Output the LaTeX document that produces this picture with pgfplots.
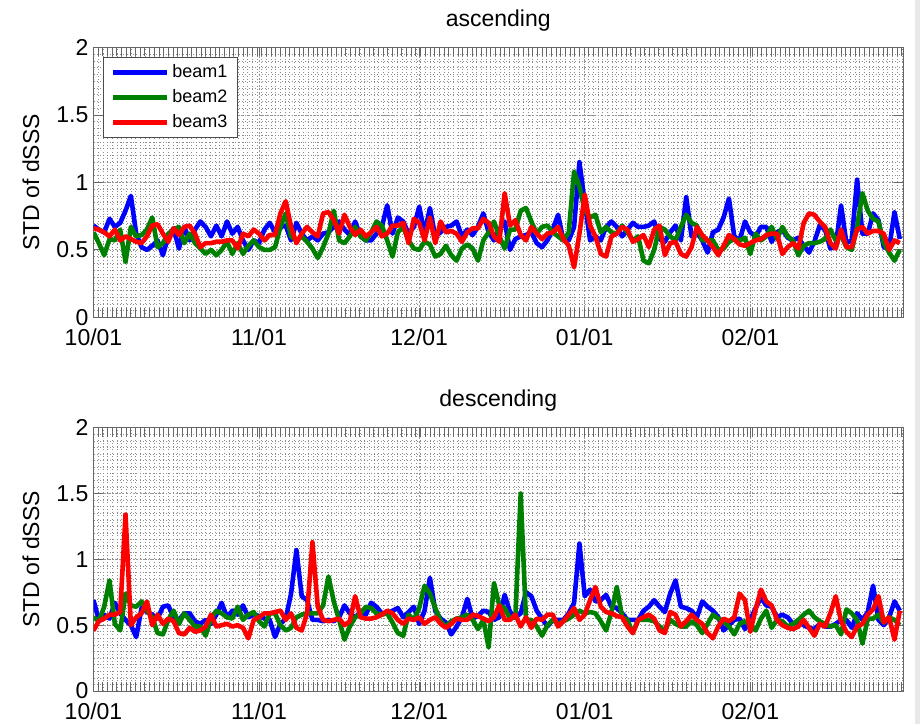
\documentclass[border=0pt]{standalone}
\usepackage{pgfplots}
\pgfplotsset{compat=1.18}
\usepackage{pgfplotstable}
\usepackage{fontspec}
\setmainfont{Liberation Sans}

\definecolor{mblue}{rgb}{0,0,1}
\definecolor{mgreen}{rgb}{0,0.5,0}
\definecolor{mred}{rgb}{1,0,0}

\pgfplotstableread{
d b1 b2 b3
0 0.68 0.63 0.66
1 0.65 0.55 0.65
2 0.63 0.46 0.63
3 0.73 0.58 0.60
4 0.67 0.57 0.65
5 0.70 0.65 0.57
6 0.79 0.41 0.60
7 0.90 0.67 0.58
8 0.62 0.60 0.56
9 0.52 0.61 0.55
10 0.50 0.65 0.60
11 0.53 0.74 0.68
12 0.57 0.52 0.69
13 0.46 0.55 0.62
14 0.60 0.62 0.56
15 0.66 0.65 0.66
16 0.51 0.67 0.61
17 0.67 0.55 0.67
18 0.57 0.62 0.68
19 0.65 0.55 0.62
20 0.71 0.51 0.52
21 0.67 0.47 0.55
22 0.60 0.50 0.55
23 0.68 0.46 0.56
24 0.60 0.50 0.56
25 0.71 0.56 0.57
26 0.62 0.47 0.57
27 0.67 0.55 0.51
28 0.57 0.47 0.62
29 0.50 0.53 0.60
30 0.57 0.57 0.65
31 0.55 0.52 0.62
32 0.65 0.50 0.57
33 0.70 0.50 0.61
34 0.63 0.52 0.61
35 0.67 0.67 0.77
36 0.68 0.77 0.86
37 0.57 0.60 0.67
38 0.70 0.57 0.55
39 0.62 0.60 0.62
40 0.57 0.56 0.67
41 0.60 0.51 0.63
42 0.57 0.44 0.60
43 0.62 0.52 0.77
44 0.63 0.62 0.78
45 0.67 0.79 0.72
46 0.71 0.57 0.62
47 0.65 0.55 0.76
48 0.61 0.60 0.67
49 0.71 0.67 0.61
50 0.60 0.60 0.65
51 0.57 0.57 0.60
52 0.57 0.63 0.63
53 0.62 0.71 0.67
54 0.67 0.68 0.60
55 0.83 0.57 0.62
56 0.62 0.45 0.68
57 0.74 0.63 0.68
58 0.71 0.67 0.70
59 0.62 0.57 0.55
60 0.67 0.51 0.73
61 0.82 0.50 0.70
62 0.62 0.56 0.57
63 0.81 0.54 0.74
64 0.60 0.45 0.55
65 0.63 0.47 0.71
66 0.67 0.53 0.63
67 0.68 0.46 0.64
68 0.71 0.42 0.62
69 0.60 0.51 0.56
70 0.65 0.54 0.63
71 0.61 0.51 0.66
72 0.67 0.42 0.66
73 0.77 0.57 0.73
74 0.63 0.63 0.70
75 0.57 0.71 0.60
76 0.65 0.60 0.56
77 0.71 0.51 0.92
78 0.50 0.65 0.68
79 0.58 0.65 0.72
80 0.60 0.79 0.61
81 0.61 0.81 0.57
82 0.63 0.71 0.67
83 0.55 0.62 0.62
84 0.52 0.67 0.58
85 0.57 0.68 0.62
86 0.65 0.63 0.63
87 0.76 0.60 0.67
88 0.57 0.57 0.58
89 0.57 0.63 0.53
90 0.67 1.08 0.37
91 1.15 0.97 0.62
92 0.85 0.79 0.91
93 0.57 0.74 0.68
94 0.60 0.76 0.60
95 0.57 0.63 0.47
96 0.67 0.67 0.45
97 0.71 0.63 0.60
98 0.67 0.62 0.62
99 0.60 0.68 0.67
100 0.65 0.63 0.65
101 0.70 0.57 0.56
102 0.67 0.60 0.58
103 0.67 0.42 0.61
104 0.68 0.40 0.52
105 0.71 0.50 0.65
106 0.58 0.67 0.68
107 0.56 0.65 0.46
108 0.63 0.60 0.55
109 0.68 0.57 0.56
110 0.57 0.67 0.47
111 0.89 0.76 0.45
112 0.60 0.70 0.52
113 0.63 0.68 0.67
114 0.57 0.57 0.61
115 0.48 0.57 0.57
116 0.63 0.57 0.52
117 0.65 0.50 0.46
118 0.74 0.51 0.53
119 0.88 0.56 0.61
120 0.60 0.58 0.58
121 0.57 0.57 0.54
122 0.71 0.59 0.53
123 0.63 0.47 0.55
124 0.60 0.62 0.57
125 0.67 0.57 0.58
126 0.67 0.60 0.61
127 0.56 0.67 0.62
128 0.63 0.58 0.62
129 0.65 0.67 0.47
130 0.59 0.60 0.52
131 0.57 0.57 0.55
132 0.59 0.46 0.51
133 0.53 0.53 0.70
134 0.48 0.55 0.77
135 0.56 0.55 0.76
136 0.68 0.56 0.71
137 0.65 0.58 0.67
138 0.51 0.65 0.55
139 0.53 0.57 0.51
140 0.83 0.61 0.65
141 0.55 0.52 0.52
142 0.57 0.50 0.52
143 1.02 0.67 0.65
144 0.62 0.92 0.67
145 0.62 0.79 0.62
146 0.77 0.73 0.64
147 0.72 0.71 0.64
148 0.52 0.55 0.62
149 0.51 0.48 0.50
150 0.78 0.42 0.57
151 0.58 0.50 0.55
}\asc

\pgfplotstableread{
d b1 b2 b3
0 0.69 0.56 0.46
1 0.54 0.53 0.53
2 0.58 0.64 0.55
3 0.55 0.84 0.58
4 0.67 0.51 0.58
5 0.59 0.46 0.60
6 0.54 0.74 1.34
7 0.50 0.65 0.50
8 0.41 0.64 0.56
9 0.63 0.68 0.59
10 0.60 0.61 0.68
11 0.58 0.56 0.50
12 0.55 0.44 0.58
13 0.64 0.43 0.51
14 0.65 0.54 0.55
15 0.56 0.61 0.53
16 0.54 0.51 0.44
17 0.59 0.59 0.43
18 0.59 0.54 0.48
19 0.53 0.49 0.45
20 0.51 0.49 0.46
21 0.54 0.42 0.49
22 0.51 0.55 0.58
23 0.58 0.61 0.49
24 0.67 0.59 0.50
25 0.56 0.56 0.51
26 0.61 0.55 0.49
27 0.58 0.64 0.50
28 0.65 0.54 0.48
29 0.56 0.58 0.40
30 0.58 0.60 0.54
31 0.57 0.53 0.56
32 0.55 0.49 0.59
33 0.54 0.59 0.59
34 0.41 0.59 0.60
35 0.51 0.50 0.61
36 0.55 0.46 0.54
37 0.74 0.48 0.59
38 1.07 0.56 0.48
39 0.72 0.58 0.46
40 0.69 0.59 0.59
41 0.54 0.59 1.13
42 0.54 0.59 0.64
43 0.53 0.65 0.54
44 0.54 0.87 0.53
45 0.53 0.68 0.54
46 0.56 0.54 0.55
47 0.65 0.39 0.50
48 0.59 0.49 0.53
49 0.56 0.56 0.72
50 0.60 0.59 0.56
51 0.58 0.64 0.55
52 0.67 0.63 0.55
53 0.64 0.59 0.56
54 0.59 0.58 0.58
55 0.59 0.59 0.61
56 0.61 0.52 0.59
57 0.63 0.44 0.54
58 0.56 0.42 0.51
59 0.60 0.58 0.55
60 0.64 0.54 0.54
61 0.51 0.63 0.56
62 0.61 0.80 0.51
63 0.86 0.74 0.54
64 0.61 0.63 0.56
65 0.55 0.53 0.51
66 0.52 0.49 0.48
67 0.43 0.53 0.51
68 0.49 0.55 0.55
69 0.56 0.56 0.54
70 0.70 0.58 0.54
71 0.55 0.54 0.58
72 0.57 0.47 0.57
73 0.61 0.54 0.55
74 0.60 0.33 0.53
75 0.54 0.82 0.56
76 0.56 0.65 0.65
77 0.73 0.63 0.54
78 0.60 0.55 0.54
79 0.56 0.56 0.58
80 0.59 1.50 0.49
81 0.75 0.54 0.56
82 0.72 0.54 0.48
83 0.61 0.49 0.55
84 0.55 0.42 0.54
85 0.49 0.50 0.58
86 0.54 0.54 0.58
87 0.54 0.51 0.49
88 0.54 0.53 0.53
89 0.59 0.55 0.58
90 0.67 0.58 0.63
91 1.12 0.61 0.54
92 0.72 0.59 0.58
93 0.77 0.60 0.69
94 0.68 0.59 0.79
95 0.69 0.53 0.64
96 0.73 0.46 0.60
97 0.64 0.60 0.59
98 0.63 0.79 0.57
99 0.59 0.56 0.56
100 0.54 0.54 0.49
101 0.54 0.44 0.44
102 0.54 0.54 0.54
103 0.61 0.54 0.56
104 0.64 0.54 0.58
105 0.69 0.53 0.55
106 0.64 0.49 0.46
107 0.60 0.46 0.44
108 0.74 0.54 0.60
109 0.84 0.51 0.58
110 0.64 0.49 0.49
111 0.63 0.49 0.53
112 0.61 0.53 0.58
113 0.56 0.50 0.54
114 0.68 0.44 0.51
115 0.64 0.51 0.44
116 0.61 0.58 0.40
117 0.56 0.55 0.49
118 0.46 0.53 0.55
119 0.50 0.49 0.53
120 0.54 0.43 0.56
121 0.55 0.51 0.74
122 0.47 0.53 0.69
123 0.54 0.50 0.45
124 0.63 0.46 0.62
125 0.71 0.55 0.77
126 0.65 0.61 0.68
127 0.64 0.48 0.65
128 0.56 0.54 0.54
129 0.58 0.53 0.50
130 0.56 0.49 0.48
131 0.51 0.51 0.47
132 0.53 0.54 0.49
133 0.50 0.58 0.54
134 0.48 0.61 0.48
135 0.47 0.56 0.42
136 0.51 0.53 0.51
137 0.49 0.51 0.49
138 0.49 0.49 0.59
139 0.51 0.50 0.72
140 0.54 0.43 0.53
141 0.54 0.62 0.45
142 0.48 0.59 0.41
143 0.59 0.54 0.49
144 0.54 0.36 0.51
145 0.60 0.55 0.58
146 0.80 0.55 0.62
147 0.54 0.58 0.72
148 0.50 0.52 0.52
149 0.56 0.56 0.56
150 0.68 0.54 0.39
151 0.61 0.50 0.61
}\desc

\pgfplotsset{
  myaxis/.style={
    scale only axis,
    width=404.75pt,
    xmin=0, xmax=151.6, ymin=0, ymax=2,
    xtick={0,31,61,92,123},
    xticklabels={10/01,11/01,12/01,01/01,02/01},
    ytick={0,0.5,1,1.5,2},
    yticklabels={0,0.5,1,1.5,2},
    minor xtick={0,0.875,...,151.5},
    minor ytick={0.05,0.1,...,1.97},
    grid=both,
    major grid style={black!40, line width=0.4pt, dash pattern=on 0.8pt off 1pt},
    minor grid style={black!45, line width=0.3pt, dash pattern=on 0.35pt off 1.3pt},
    minor y tick style={draw=none},
    major tick length=4.5pt,
    minor tick length=4.5pt,
    every tick/.style={black!60, line width=0.4pt},
    axis line style={black!60, line width=0.5pt},
    font=\fontsize{11.5}{13.8}\selectfont,
    tick label style={font=\fontsize{11.5}{13.8}\selectfont},
    /pgf/number format/assume math mode=true,
    xticklabel style={yshift=-2.2pt},
    yticklabel style={xshift=1pt},
    ylabel={STD of dSSS},
    every axis y label/.style={at={(axis description cs:-0.0772,0.5)}, anchor=center, rotate=90},
    every axis title/.style={at={(axis description cs:0.5,1)}, anchor=base, yshift=10.5pt},
    every axis plot/.append style={line width=2.3pt, line join=round},
    clip=true,
  }
}

\begin{document}
\begin{tikzpicture}
\useasboundingbox (0,0) rectangle (460pt,362pt);
\fill[black!9] (457.5pt,0) rectangle (460pt,362pt);

\begin{axis}[myaxis,
  at={(46.75pt,203.35pt)}, anchor=south west,
  height=134.9pt,
  title={ascending},
  legend cell align=left,
  legend image code/.code={\draw[#1, line width=2.4pt] (0pt,0pt) -- (27pt,0pt);},
  legend style={at={(axis description cs:0.0117,0.9648)}, anchor=north west,
    draw=black!70, fill=white, line width=0.5pt,
    font=\fontsize{9}{10}\selectfont,
    inner xsep=3.5pt, inner ysep=1.25pt, row sep=0pt,
    nodes={inner sep=1.5pt, text height=7.25pt, text depth=2.25pt}},
]
\addplot[mblue] table[x=d, y=b1] {\asc};
\addlegendentry{beam1}
\addplot[mgreen] table[x=d, y=b2] {\asc};
\addlegendentry{beam2}
\addplot[mred] table[x=d, y=b3] {\asc};
\addlegendentry{beam3}
\end{axis}

\begin{axis}[myaxis,
  at={(46.75pt,16.5pt)}, anchor=south west,
  height=131.65pt,
  title={descending},
]
\addplot[mblue] table[x=d, y=b1] {\desc};
\addplot[mgreen] table[x=d, y=b2] {\desc};
\addplot[mred] table[x=d, y=b3] {\desc};
\end{axis}
\end{tikzpicture}
\end{document}
